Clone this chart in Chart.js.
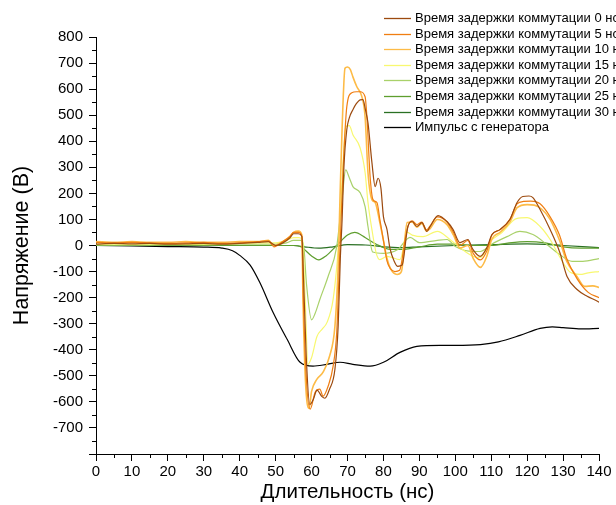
<!DOCTYPE html>
<html>
<head>
<meta charset="utf-8">
<script src="https://cdn.jsdelivr.net/npm/chart.js@4.4.1/dist/chart.umd.min.js"></script>
<style>
  html, body { margin: 0; padding: 0; background: #ffffff; }
  #wrap { width: 616px; height: 505px; }
</style>
</head>
<body>
<div id="wrap"><canvas id="chart" width="616" height="505"></canvas></div>
<script>
"use strict";

// switching delay 0 ns
const t_0ns = [0, 5, 10, 15, 20, 25, 30, 35, 40, 45, 48, 50, 52, 54, 55, 56.3, 57.3, 57.8, 58.5, 59.5, 60.5, 61.5, 62.9, 63.7, 65, 66.5, 67.4, 68, 68.5, 69, 69.8, 70.5, 71.5, 72.5, 73.5, 74.3, 75, 75.7, 76.8, 77.7, 78.5, 79.3, 80, 81, 81.8, 83, 84, 85.2, 86.8, 88, 89.3, 90.7, 92.1, 93, 95.2, 97.7, 99.4, 101.3, 103.5, 104.9, 106.9, 108.8, 110.2, 112.4, 115.2, 117.2, 118.8, 120.5, 121.6, 123.6, 126.4, 129.1, 131.1, 133.9, 136.7, 139.7, 140];
const v_0ns = [5, 8, 6, 8, 5, 6, 8, 5, 8, 12, 15, 0, 10, 30, 45, 45, 35, -140, -420, -610, -590, -555, -580, -586, -551, -475, -310, -50, 100, 300, 444, 490, 521, 545, 559, 560, 520, 471, 318, 226, 258, 220, 111, 61, -10, -60, -80, -75, 73, 92, 73, 88, 54, 73, 115, 92, 61, 11, 23, -15, -42, -8, 42, 61, 100, 165, 188, 190, 184, 138, 61, -27, -119, -169, -195, -215, -218];

// 5 ns
const t_5ns = [0, 5, 10, 15, 20, 25, 30, 35, 40, 45, 48, 49.5, 52, 54, 55, 56.3, 57.3, 57.7, 58.5, 59.6, 61, 62.3, 63.2, 64.6, 66, 67, 67.9, 68.8, 69.8, 71.2, 72.5, 73.5, 74.9, 75.4, 76.3, 77.1, 78.2, 79, 80, 81, 82, 83.2, 84.5, 86, 87, 88, 89.3, 90.7, 92, 93, 95, 97.7, 99.5, 101.3, 103.5, 105, 107, 108.8, 110.2, 112.4, 115.2, 117.2, 119, 121, 123.6, 126.4, 129, 131, 134, 137, 140];
const v_5ns = [12, 10, 12, 10, 8, 10, 12, 8, 10, 15, 18, -5, 15, 35, 50, 50, 35, -200, -500, -628, -563, -551, -578, -540, -463, -333, -15, 300, 532, 586, 590, 590, 571, 494, 264, 176, 165, 100, 20, -60, -90, -100, -95, 20, 80, 95, 80, 90, 60, 75, 110, 90, 50, 0, 20, -30, -55, -20, 40, 60, 100, 160, 169, 170, 160, 110, 40, -50, -130, -180, -200, -205];

// 10 ns
const t_10ns = [0, 5, 10, 15, 20, 25, 30, 35, 40, 45, 48, 49.5, 52, 54, 55, 56.3, 57.3, 57.6, 58.3, 59.3, 60, 61.5, 63.2, 65, 66.5, 67.4, 67.9, 68.5, 69.3, 70, 70.8, 71.5, 72.6, 74, 74.9, 75.7, 76.8, 77.7, 79, 80, 81, 82, 83.8, 85, 86.6, 88, 89.3, 90.7, 92, 93, 95, 97.7, 99.5, 101.3, 103.5, 105, 107, 108.8, 110.2, 112.4, 115.2, 117.2, 120, 122, 124, 126.4, 129, 131, 133.9, 136, 138.3, 140];
const v_10ns = [15, 12, 15, 12, 12, 15, 12, 12, 15, 15, 20, 0, 15, 35, 50, 55, 40, -200, -520, -625, -560, -513, -486, -425, -310, -80, 176, 450, 680, 685, 675, 647, 609, 571, 494, 280, 176, 165, 88, 20, -50, -90, -111, -100, 88, 90, 70, 85, 55, 65, 100, 80, 40, -10, 0, -50, -84, -40, 25, 50, 90, 145, 157, 155, 140, 100, 20, -60, -120, -157, -155, -161, -150];

// 15 ns
const t_15ns = [0, 10, 20, 30, 40, 45, 50, 53, 55, 56.5, 57.5, 58.2, 59, 60, 61.5, 63, 64.3, 66, 67.4, 68.5, 69.5, 70.5, 71.5, 73.5, 74.9, 75.7, 76.8, 78, 79, 81, 84.6, 86.6, 88, 91, 95, 98.5, 101.3, 105, 107, 109.7, 113, 117, 120, 123.6, 126.4, 129, 132, 134.7, 137, 140];
const v_15ns = [5, 5, 5, 5, 8, 10, 10, 20, 30, 30, 20, -200, -456, -430, -349, -320, -295, -207, -15, 250, 455, 460, 425, 375, 280, 165, 61, -30, -54, -42, -54, 50, 40, 34, 54, 23, -8, -42, -46, 15, 50, 103, 107, 73, 23, -42, -103, -111, -105, -100];

// 20 ns
const t_20ns = [0, 10, 20, 30, 40, 45, 50, 53, 55, 57, 57.8, 58.6, 60, 61, 62.3, 64.6, 67, 68.5, 69.5, 70.5, 71.5, 73.5, 74.9, 75.7, 77, 80, 84, 87.4, 90, 95, 97.7, 100, 105, 107, 110, 114.4, 118, 121.6, 125.5, 129, 132.5, 135.5, 140];
const v_20ns = [2, 2, 3, 3, 5, 5, 5, 10, 20, 20, 0, -150, -285, -260, -207, -119, -4, 180, 290, 260, 226, 203, 149, 73, -25, -30, -15, 31, 11, 20, 23, -4, -23, -23, 4, 34, 54, 42, 4, -34, -61, -61, -50];

// 25 ns
const t_25ns = [0, 10, 20, 30, 40, 50, 55, 57, 60, 62, 64, 67, 70, 72, 75, 78, 82, 85, 90, 95, 100, 105, 110, 115, 120, 125, 130, 135, 140];
const v_25ns = [0, 0, 0, 0, 0, 0, 0, -5, -40, -55, -40, 0, 40, 50, 30, 5, -15, -15, -5, 5, 5, 0, 0, 10, 15, 10, -5, -10, -10];

// 30 ns
const t_30ns = [0, 20, 40, 55, 58, 62, 66, 70, 75, 80, 85, 90, 100, 110, 120, 130, 140];
const v_30ns = [0, 0, 0, 0, -5, -10, -5, 3, 2, -5, -8, -5, 0, 3, 6, 0, -8];

// generator pulse
const t_gen = [0, 10, 20, 30, 35, 38, 40, 42.9, 45.6, 49.3, 53.2, 56.8, 60.4, 64.3, 67.9, 71.5, 76.3, 80, 84.6, 89.3, 95.7, 100, 107, 112, 118, 123.6, 127, 130, 135, 140];
const v_gen = [0, -2, -4, -6, -10, -20, -38, -75, -142, -257, -360, -448, -463, -456, -448, -456, -463, -448, -410, -387, -383, -383, -380, -370, -345, -318, -312, -315, -320, -318];

const labels = [
  'Время задержки коммутации 0 нс',
  'Время задержки коммутации 5 нс',
  'Время задержки коммутации 10 нс',
  'Время задержки коммутации 15 нс',
  'Время задержки коммутации 20 нс',
  'Время задержки коммутации 25 нс',
  'Время задержки коммутации 30 нс',
  'Импульс с генератора',
];
const series_t = [t_0ns, t_5ns, t_10ns, t_15ns, t_20ns, t_25ns, t_30ns, t_gen];
const series_v = [v_0ns, v_5ns, v_10ns, v_15ns, v_20ns, v_25ns, v_30ns, v_gen];
const colors = ['#9c4a0f', '#f07e12', '#fdbb47', '#f8f870', '#a9d16a', '#5e9e2e', '#2a7023', '#000000'];

const x_ticks = [0, 140, 10];   // min, max, step
const y_ticks = [-800, 800, 100];

const font_family = 'Arial, "Liberation Sans", sans-serif';

// short minor ticks half way between labelled ones
const minorTicks = {
  id: 'minorTicks',
  afterDraw(chart) {
    const ctx = chart.ctx;
    const xs = chart.scales.x;
    const ys = chart.scales.y;
    const area = chart.chartArea;
    ctx.save();
    ctx.strokeStyle = '#000000';
    ctx.lineWidth = 1;
    ctx.beginPath();
    for (let v = x_ticks[0] + x_ticks[2] / 2; v < x_ticks[1]; v += x_ticks[2]) {
      const px = Math.round(xs.getPixelForValue(v)) + 0.5;
      ctx.moveTo(px, area.bottom);
      ctx.lineTo(px, area.bottom + 4);
    }
    for (let v = y_ticks[0] + y_ticks[2] / 2; v < y_ticks[1]; v += y_ticks[2]) {
      const py = Math.round(ys.getPixelForValue(v)) + 0.5;
      ctx.moveTo(area.left, py);
      ctx.lineTo(area.left - 4, py);
    }
    ctx.stroke();
    ctx.restore();
  }
};

// legend in the upper right corner, over the plot, running off the edge
const cornerLegend = {
  id: 'cornerLegend',
  afterDraw(chart) {
    const ctx = chart.ctx;
    const x0 = 384;
    const y0 = 18;
    const row = 15.6;
    ctx.save();
    ctx.font = '13px ' + font_family;
    ctx.textBaseline = 'middle';
    ctx.textAlign = 'left';
    chart.data.datasets.forEach((ds, i) => {
      const y = Math.round(y0 + i * row) + 0.5;
      ctx.beginPath();
      ctx.moveTo(x0, y);
      ctx.lineTo(x0 + 27, y);
      ctx.strokeStyle = ds.borderColor;
      ctx.lineWidth = 1.3;
      ctx.stroke();
      ctx.fillStyle = '#000000';
      ctx.fillText(ds.label, x0 + 31, y);
    });
    ctx.restore();
  }
};

new Chart(document.getElementById('chart'), {
  type: 'line',
  data: {
    datasets: labels.map((label, i) => ({
      label: label,
      data: series_t[i].map((t, j) => ({ x: t, y: series_v[i][j] })),
      borderColor: colors[i],
      backgroundColor: colors[i],
      borderWidth: i == 2 ? 1.6 : 1.2,
      pointRadius: 0,
      cubicInterpolationMode: 'monotone',
      fill: false,
    })),
  },
  options: {
    responsive: false,
    animation: false,
    layout: { padding: { top: 37, right: 17, left: 0, bottom: 0 } },
    plugins: {
      legend: { display: false },
      tooltip: { enabled: false },
    },
    scales: {
      x: {
        type: 'linear',
        min: x_ticks[0],
        max: x_ticks[1],
        afterFit: (scale) => { scale.height = 51; },
        ticks: {
          stepSize: x_ticks[2],
          padding: 2,
          color: '#000000',
          maxRotation: 0,
          autoSkip: false,
          font: { family: font_family, size: 15 },
        },
        grid: { drawOnChartArea: false, tickLength: 7, color: '#000000' },
        border: { color: '#000000', width: 1 },
        title: {
          display: true,
          text: 'Длительность (нс)',
          color: '#000000',
          padding: { top: 0, bottom: 0 },
          font: { family: font_family, size: 20.5 },
        },
      },
      y: {
        type: 'linear',
        min: y_ticks[0],
        max: y_ticks[1],
        afterFit: (scale) => { scale.width = 96; },
        ticks: {
          stepSize: y_ticks[2],
          padding: 6,
          color: '#000000',
          autoSkip: false,
          font: { family: font_family, size: 15 },
          callback: (v) => (v == y_ticks[0] ? '' : v),
        },
        grid: { drawOnChartArea: false, tickLength: 7, color: '#000000' },
        border: { color: '#000000', width: 1 },
        title: {
          display: true,
          text: 'Напряжение (В)',
          color: '#000000',
          padding: { top: 9, bottom: 0 },
          font: { family: font_family, size: 21.5 },
        },
      },
    },
  },
  plugins: [minorTicks, cornerLegend],
});
</script>
</body>
</html>
